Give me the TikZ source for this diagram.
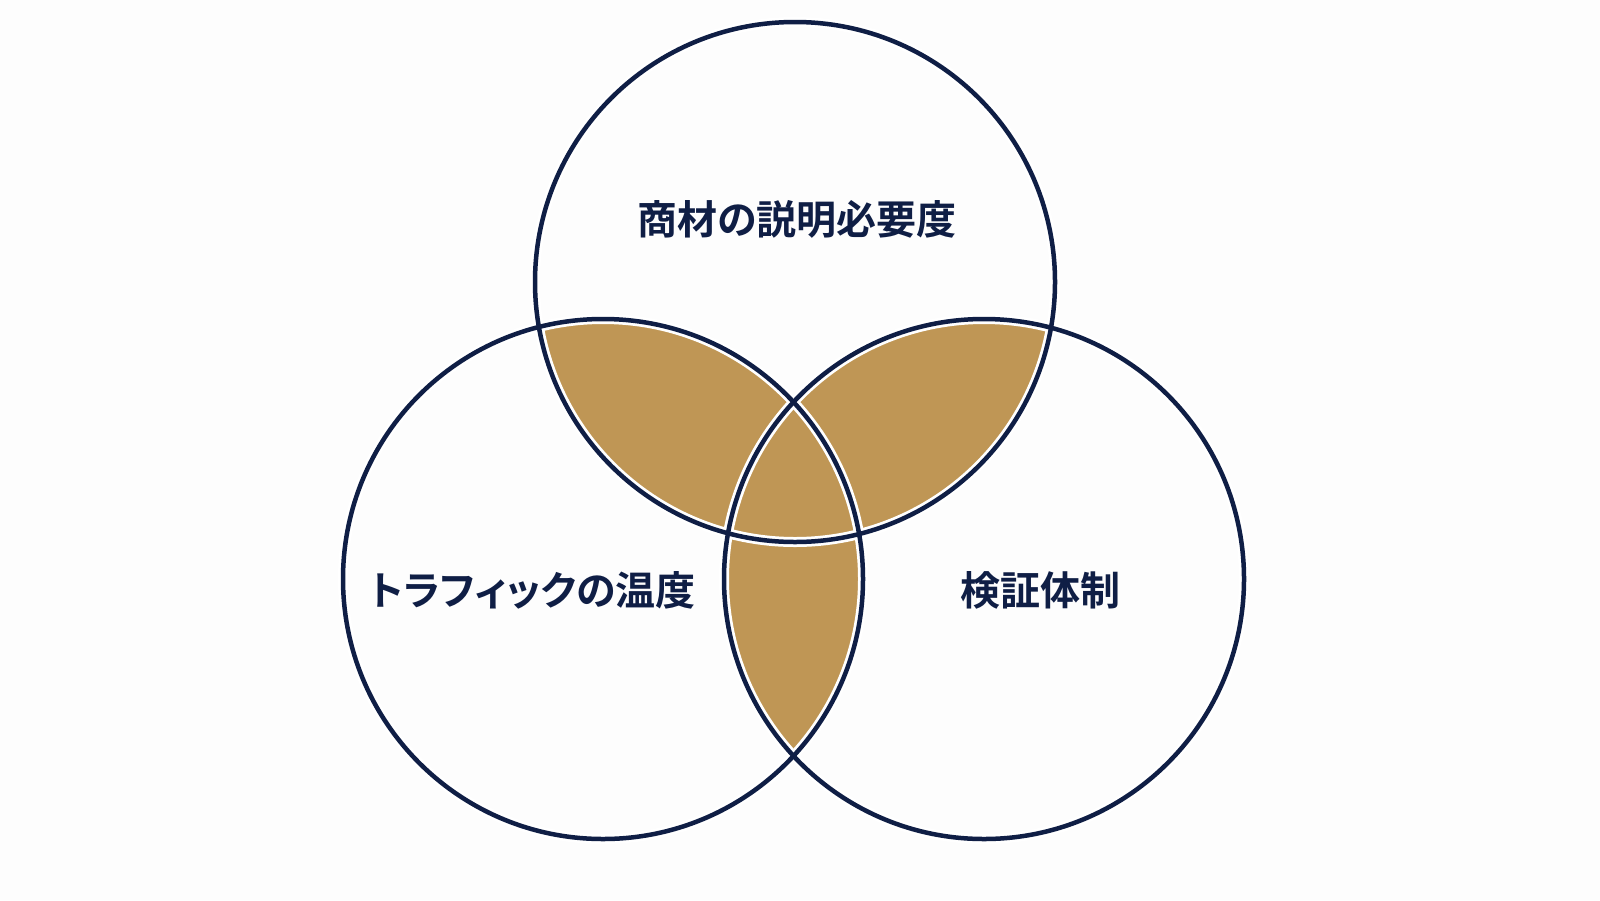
\documentclass[tikz,border=0pt]{standalone}
\usepackage{fontspec}
\newfontfamily\cjk{Noto Sans CJK JP Bold}[RawFeature=+palt]
\definecolor{navy}{HTML}{0F1E45}
\definecolor{gold}{HTML}{BF9655}
\definecolor{bg}{HTML}{FDFDFD}
\tikzset{
  halo/.style={draw=white,line width=10pt},
  ring/.style={draw=navy,line width=4.5pt},
  lbl/.style={text=navy,font=\cjk\fontsize{40}{48}\selectfont,inner sep=0pt}
}
\begin{document}
\begin{tikzpicture}[x=1pt,y=-1pt]
\fill[bg] (0,0) rectangle (1600,900);
\useasboundingbox (0,0) rectangle (1600,900);
\coordinate (T) at (795,282);
\coordinate (L) at (603,579);
\coordinate (R) at (984,579);
\def\rr{260}
\begin{scope}\clip (T) circle (\rr);\fill[gold] (L) circle (\rr);\fill[gold] (R) circle (\rr);\end{scope}
\begin{scope}\clip (L) circle (\rr);\fill[gold] (R) circle (\rr);\end{scope}
\foreach \c in {T,L,R}{\path[halo] (\c) circle (\rr);}
\foreach \c in {T,L,R}{\path[ring] (\c) circle (\rr);}
\node[lbl] (tt) at (797,219) {商材の説明必要度};
\node[lbl] (lt) at (533,590) {トラフィックの温度};
\node[lbl] (rt) at (1040,590) {検証体制};
\end{tikzpicture}
\end{document}
